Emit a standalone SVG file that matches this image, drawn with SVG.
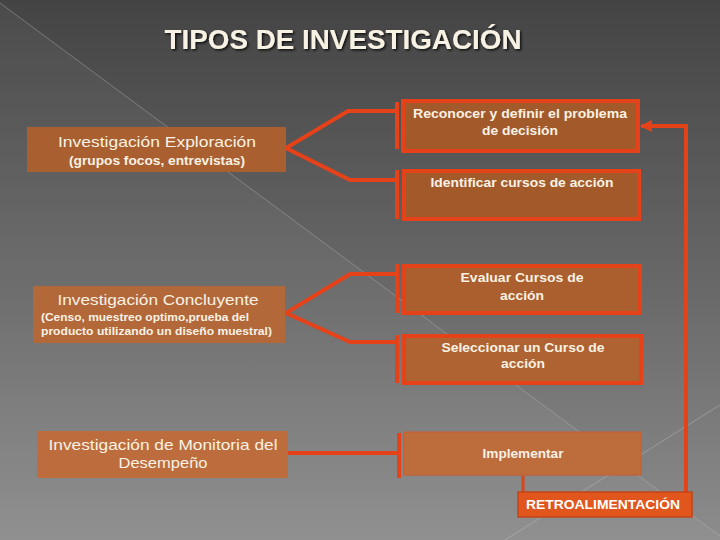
<svg xmlns="http://www.w3.org/2000/svg" width="720" height="540" viewBox="0 0 720 540">
  <defs>
    <linearGradient id="bg" x1="0" y1="0" x2="0" y2="1">
      <stop offset="0" stop-color="#444444"/>
      <stop offset="0.5" stop-color="#666666"/>
      <stop offset="1" stop-color="#8c8c8c"/>
    </linearGradient>
    <filter id="shadow" x="-5%" y="-20%" width="110%" height="150%">
      <feDropShadow dx="1.5" dy="1.5" stdDeviation="0.8" flood-color="#000" flood-opacity="0.8"/>
    </filter>
    <marker id="arrow" viewBox="0 0 10 10" refX="9" refY="5" markerWidth="3" markerHeight="3" orient="auto" markerUnits="strokeWidth">
      <path d="M0,0 L10,5 L0,10 Z" fill="#e5421a"/>
    </marker>
    <style>
      .lbox { stroke: none; }
      .rbox { stroke: #e5421a; stroke-width: 4; }
      .txt { font-family: "Liberation Sans", Arial, sans-serif; fill: #f7f2e4; }
      .reg { font-size: 15px; }
      .bold { font-weight: bold; }
      .conn { fill: none; stroke: #e5421a; stroke-width: 4; stroke-linejoin: miter; }
      .bar { stroke: #e5421a; stroke-width: 4; }
    </style>
  </defs>

  <!-- background -->
  <rect x="0" y="0" width="720" height="540" fill="url(#bg)"/>
  <polygon points="0,3 720,536 720,540 0,540" fill="#ffffff" fill-opacity="0.04"/>
  <line x1="0" y1="3" x2="720" y2="536" stroke="#bdbdbd" stroke-opacity="0.4" stroke-width="1"/>
  <line x1="505" y1="540" x2="720" y2="405" stroke="#d0d0d0" stroke-opacity="0.35" stroke-width="1"/>

  <!-- title -->
  <text id="title" class="txt bold" x="343" y="49" font-size="27" text-anchor="middle" textLength="357" lengthAdjust="spacingAndGlyphs" fill="#ffffff" filter="url(#shadow)">TIPOS DE INVESTIGACIÓN</text>

  <!-- connectors -->
  <g id="connectors">
    <polyline class="conn" points="397,111 348,111 286,148 350,180 397,180"/>
    <line class="bar" x1="397" y1="102" x2="397" y2="149"/>
    <line class="bar" x1="397" y1="170" x2="397" y2="219"/>

    <polyline class="conn" points="397,274 350,274 286,313 350,342 397,342"/>
    <line class="bar" x1="397" y1="264" x2="397" y2="313"/>
    <line class="bar" x1="397" y1="335" x2="397" y2="383"/>

    <line class="conn" x1="288" y1="453" x2="399" y2="453"/>
    <line class="bar" x1="399" y1="433" x2="399" y2="478"/>

    <line x1="523" y1="475" x2="523" y2="493" stroke="#d8461c" stroke-width="3"/>
    <polyline class="conn" points="686,492 686,126 641,126" marker-end="url(#arrow)"/>
  </g>

  <!-- left nodes -->
  <g id="exploracion">
    <rect class="lbox" x="27" y="127" width="259" height="45" fill="#a95f2f"/>
    <text class="txt reg" x="157" y="147" text-anchor="middle" textLength="198" lengthAdjust="spacingAndGlyphs">Investigación Exploración</text>
    <text class="txt bold" x="157" y="165" font-size="12" text-anchor="middle" textLength="176" lengthAdjust="spacingAndGlyphs">(grupos focos, entrevistas)</text>
  </g>

  <g id="concluyente">
    <rect class="lbox" x="33" y="286" width="252" height="57" fill="#b3683a"/>
    <text class="txt reg" x="158" y="305" text-anchor="middle" textLength="201" lengthAdjust="spacingAndGlyphs">Investigación Concluyente</text>
    <text class="txt bold" x="41" y="321" font-size="11.5" textLength="208" lengthAdjust="spacingAndGlyphs">(Censo, muestreo optimo,prueba del</text>
    <text class="txt bold" x="41" y="335" font-size="11.5" textLength="231" lengthAdjust="spacingAndGlyphs">producto utilizando un diseño  muestral)</text>
  </g>

  <g id="monitoria">
    <rect class="lbox" x="37" y="431" width="251" height="47" fill="#bd6d3d"/>
    <text class="txt" x="163" y="450" font-size="14.5" text-anchor="middle" textLength="229" lengthAdjust="spacingAndGlyphs">Investigación de Monitoria del</text>
    <text class="txt" x="163" y="468" font-size="14.5" text-anchor="middle" textLength="89" lengthAdjust="spacingAndGlyphs">Desempeño</text>
  </g>

  <!-- right nodes -->
  <g id="reconocer">
    <rect class="rbox" x="403" y="101" width="235" height="50" fill="#a35a2b"/>
    <text class="txt bold" x="520" y="118" font-size="13" text-anchor="middle" textLength="214" lengthAdjust="spacingAndGlyphs">Reconocer y definir el problema</text>
    <text class="txt bold" x="520" y="135" font-size="13" text-anchor="middle" textLength="76" lengthAdjust="spacingAndGlyphs">de decisión</text>
  </g>

  <g id="identificar">
    <rect class="rbox" x="404" y="171" width="235" height="48" fill="#a35a2b"/>
    <text class="txt bold" x="522" y="187" font-size="13" text-anchor="middle" textLength="183" lengthAdjust="spacingAndGlyphs">Identificar cursos de acción</text>
  </g>

  <g id="evaluar">
    <rect class="rbox" x="404" y="266" width="236" height="47" fill="#ab5e2e"/>
    <text class="txt bold" x="522" y="282" font-size="13" text-anchor="middle" textLength="123" lengthAdjust="spacingAndGlyphs">Evaluar Cursos de</text>
    <text class="txt bold" x="522" y="300" font-size="13" text-anchor="middle" textLength="44" lengthAdjust="spacingAndGlyphs">acción</text>
  </g>

  <g id="seleccionar">
    <rect class="rbox" x="404" y="336" width="237" height="47" fill="#b06332"/>
    <text class="txt bold" x="523" y="352" font-size="13" text-anchor="middle" textLength="163" lengthAdjust="spacingAndGlyphs">Seleccionar un Curso de</text>
    <text class="txt bold" x="523" y="368" font-size="13" text-anchor="middle" textLength="44" lengthAdjust="spacingAndGlyphs">acción</text>
  </g>

  <g id="implementar">
    <rect x="404" y="432" width="237" height="43" fill="#bd6c3c" stroke="#cf5a2a" stroke-width="1"/>
    <text class="txt bold" x="523" y="458" font-size="13" text-anchor="middle" textLength="81" lengthAdjust="spacingAndGlyphs">Implementar</text>
  </g>

  <g id="retroalimentacion">
    <rect x="518" y="492" width="174" height="25" fill="#e0561d" stroke="#c2441a" stroke-width="1.5"/>
    <text class="bold" x="603" y="509" font-size="12.5" font-family="'Liberation Sans', Arial, sans-serif" fill="#ffffff" text-anchor="middle" textLength="154" lengthAdjust="spacingAndGlyphs">RETROALIMENTACIÓN</text>
  </g>
</svg>
